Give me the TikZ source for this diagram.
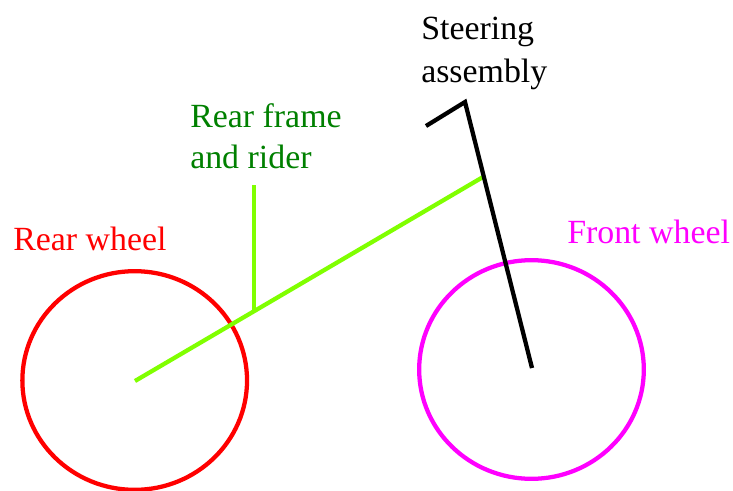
\documentclass[tikz,border=0pt]{standalone}
\usepackage{fontspec}
\setmainfont{Liberation Serif}
\usepackage{xcolor}
\usetikzlibrary{shapes.geometric}
\definecolor{framegreen}{rgb}{0.5, 1.0, 0.0}
\definecolor{labelgreen}{rgb}{0.0, 0.5, 0.0}
\definecolor{wheelred}{rgb}{1.0, 0.0, 0.0}
\definecolor{wheelpink}{rgb}{1.0, 0.0, 1.0}
\begin{document}
\begin{tikzpicture}[
        x=0.75pt, y=-0.75pt,
        every node/.style={font=\fontsize{25.4}{33}\selectfont, inner sep=0pt, anchor=base west},
        wheel/.style={line width=3.2pt, inner sep=0pt, outer sep=0pt, ellipse, minimum width=168.5pt, minimum height=164pt},
        bar/.style={line width=3.2pt}
    ]
        \useasboundingbox (0,0) rectangle (733,490);
        % wheels
        \node[wheel, draw=wheelred, anchor=center] (rear) at (134.7,380.5) {};
        \node[wheel, draw=wheelpink, anchor=center] (front) at (531.5,369.5) {};
        % rear frame
        \coordinate (hub) at (135,381);
        \coordinate (head) at (483,177);
        \coordinate (seat) at (254,311);
        \coordinate (seattop) at (254,185);
        \draw[bar, framegreen] (hub) -- (head);
        \draw[bar, framegreen] (seat) -- (seattop);
        % steering
        \coordinate (axle) at (532,368);
        \coordinate (top) at (465,102);
        \coordinate (grip) at (426,126);
        \draw[bar, black] (axle) -- (top) -- (grip);
        % labels
        \node[text=wheelred] (rearlabel) at (13,250) {Rear wheel};
        \node[text=wheelpink] (frontlabel) at (567,243) {Front wheel};
        \node[text=labelgreen] (framelabel) at (190,127) {Rear frame};
        \node[text=labelgreen] (riderlabel) at (190,168) {and rider};
        \node[text=black] (steerlabel) at (421,39) {Steering};
        \node[text=black] (assemblylabel) at (421,82) {assembly};
\end{tikzpicture}
\end{document}
